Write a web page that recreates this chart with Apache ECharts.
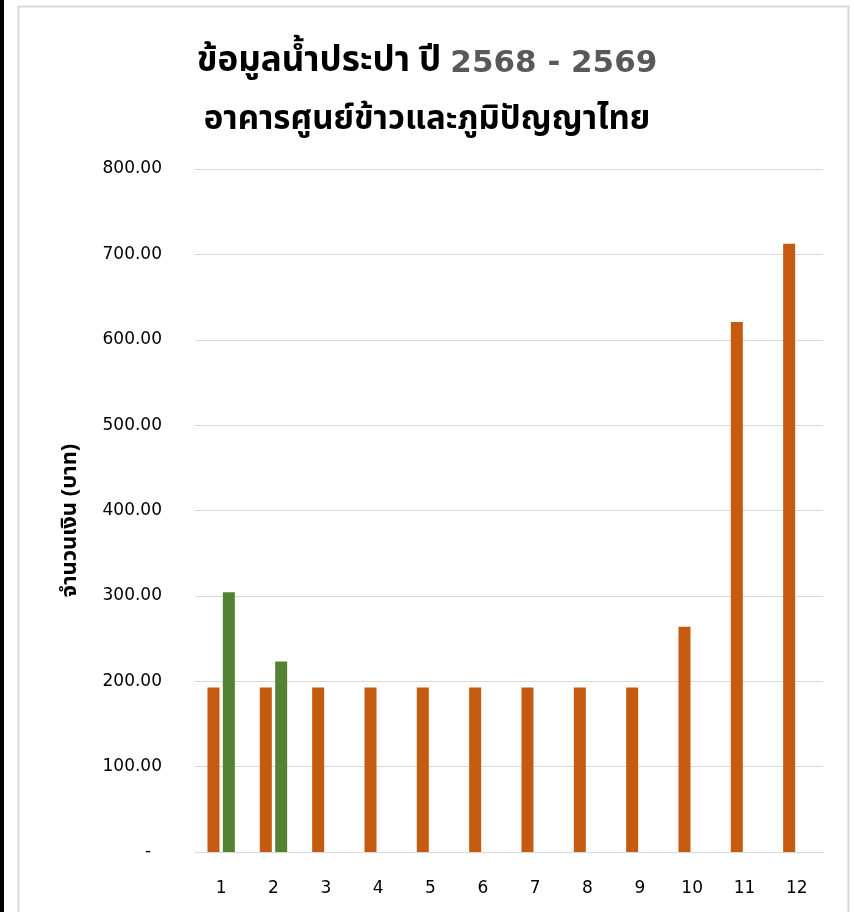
<!DOCTYPE html>
<html>
<head>
<meta charset="utf-8">
<script src="https://cdn.jsdelivr.net/npm/echarts@6/dist/echarts.min.js"></script>
<style>
html,body{margin:0;padding:0;background:#fff;}
#main{width:854px;height:912px;}
</style>
</head>
<body>
<div id="main"></div>
<script>
const months = ['1','2','3','4','5','6','7','8','9','10','11','12'];
const series2568 = [192.6, 192.6, 192.6, 192.6, 192.6, 192.6, 192.6, 192.6, 192.6, 263.7, 620.8, 712.5];
const series2569 = [304.3, 223.0];
const yTicks = { min: 0, max: 800, interval: 100 };
const titleLine1 = 'ข้อมูลน้ำประปา ปี ';
const titleYears = '2568 - 2569';
const titleLine2 = 'อาคารศูนย์ข้าวและภูมิปัญญาไทย';
const yAxisTitle = 'จำนวนเงิน (บาท)';

const chart = echarts.init(document.getElementById('main'), null, {renderer:'canvas'});
const thaiFont = '"Noto Sans Thai", "Noto Sans Thai UI", Tahoma, "Leelawadee UI", "DejaVu Sans", sans-serif';
chart.setOption({
  backgroundColor: '#ffffff',
  animation: false,
  graphic: [
    { type: 'rect', shape: { x: 0, y: 0, width: 4, height: 912 }, style: { fill: '#000' }, silent: true },
    { type: 'rect', shape: { x: 18.5, y: 6.5, width: 830, height: 920 }, style: { fill: 'none', stroke: '#d9d9d9', lineWidth: 2 }, silent: true }
  ],
  title: {
    text: '{a|' + titleLine1 + '}{b|' + titleYears + '}\n{c|' + titleLine2 + '}',
    left: 'center',
    top: 30,
    textStyle: {
      rich: {
        a: { fontFamily: thaiFont, fontWeight: 'bold', fontSize: 35, color: '#000', lineHeight: 58 },
        b: { fontFamily: '"DejaVu Sans", Tahoma, sans-serif', fontWeight: 'bold', fontSize: 31, color: '#595959', lineHeight: 58 },
        c: { fontFamily: thaiFont, fontWeight: 'bold', fontSize: 33, color: '#000', lineHeight: 58 }
      }
    }
  },
  grid: { left: 195, right: 31, top: 169, bottom: 60, containLabel: false },
  xAxis: {
    type: 'category',
    data: months,
    axisLine: { lineStyle: { color: '#d9d9d9', width: 1 } },
    axisTick: { show: false },
    axisLabel: { color: '#000', fontSize: 17, fontFamily: '"DejaVu Sans", sans-serif', margin: 28 },
    splitLine: { show: false }
  },
  yAxis: {
    type: 'value',
    min: yTicks.min, max: yTicks.max, interval: yTicks.interval,
    name: yAxisTitle,
    nameLocation: 'middle',
    nameRotate: 90,
    nameGap: 112,
    nameTextStyle: { fontFamily: thaiFont, fontWeight: 'bold', fontSize: 22, color: '#000', padding: [0, 20, 0, 0] },
    axisLine: { show: false },
    axisTick: { show: false },
    splitLine: { lineStyle: { color: '#d9d9d9', width: 1 } },
    axisLabel: {
      color: '#000', fontSize: 17, fontFamily: '"DejaVu Sans", sans-serif', margin: 33,
      formatter: v => v === 0 ? '-\u00a0\u00a0' : v.toFixed(2)
    }
  },
  series: [
    { name: '2568', type: 'bar', data: series2568, barWidth: 12, barGap: '28%', itemStyle: { color: '#c55a11' } },
    { name: '2569', type: 'bar', data: series2569, barWidth: 12, barGap: '28%', itemStyle: { color: '#548235' } }
  ]
});
</script>
</body>
</html>
